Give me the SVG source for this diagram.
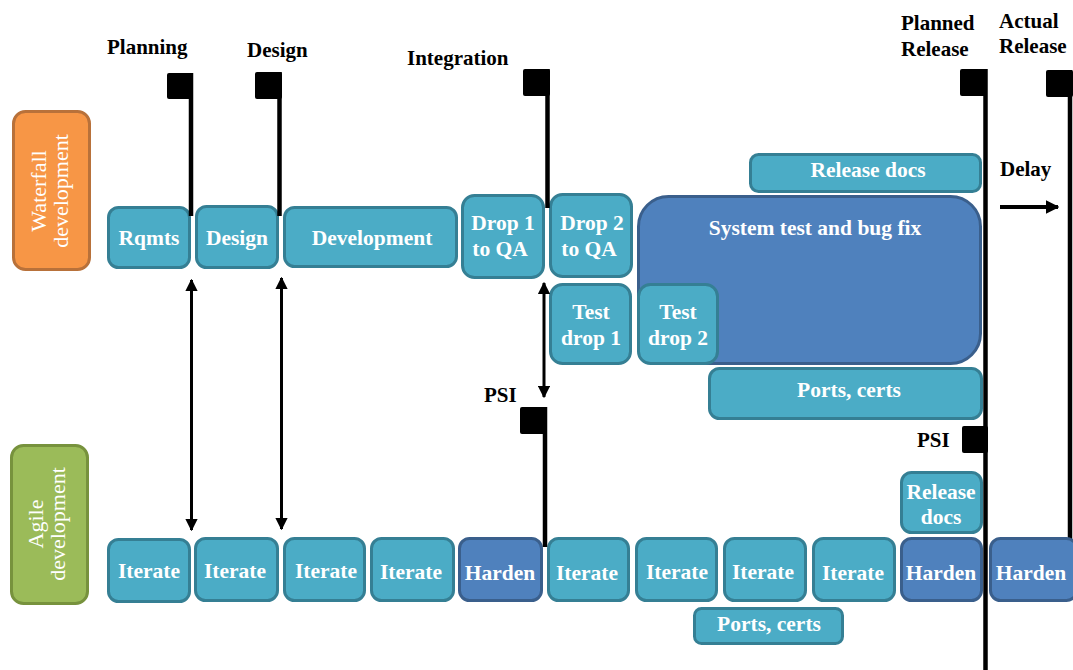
<svg xmlns="http://www.w3.org/2000/svg" width="1073" height="670" viewBox="0 0 1073 670">
  <style>
    .teal { fill: #4BACC6; stroke: #357F94; stroke-width: 3; }
    .blue { fill: #4F81BD; stroke: #3A5F8C; stroke-width: 3; }
    .bt { font-family: "Liberation Serif", "Times New Roman", serif; font-weight: bold; font-size: 21.5px; fill: #FFFFFF; text-anchor: middle; }
    .lbl { font-family: "Liberation Serif", "Times New Roman", serif; font-weight: bold; font-size: 21px; fill: #000000; }
    .side { font-family: "Liberation Serif", "Times New Roman", serif; font-size: 22px; fill: #FFFFFF; text-anchor: middle; }
    .pole { stroke: #000000; stroke-width: 4.5; fill: none; }
    .flag { fill: #000000; }
    .arrow { stroke: #000000; stroke-width: 3; fill: none; }
    .delay { stroke: #000000; stroke-width: 4; fill: none; }
  </style>
  <defs>
    <marker id="head" viewBox="0 0 10 10" refX="9" refY="5" markerWidth="4.2" markerHeight="4.2" orient="auto-start-reverse" markerUnits="strokeWidth">
      <path d="M0,0 L10,5 L0,10 Z" fill="#000000"/>
    </marker>
    <marker id="head-wide" viewBox="0 0 10 10" refX="9" refY="5" markerWidth="3.4" markerHeight="3.4" orient="auto" markerUnits="strokeWidth">
      <path d="M0,0 L10,5 L0,10 Z" fill="#000000"/>
    </marker>
  </defs>
  <rect width="1073" height="670" fill="#FFFFFF"/>

  <!-- Lane labels -->
  <g id="lane-waterfall">
    <rect x="13.5" y="111.5" width="76" height="158" rx="12" fill="#F79646" stroke="#B8713A" stroke-width="3"/>
    <text class="side" transform="translate(46,191) rotate(-90)">Waterfall</text>
    <text class="side" transform="translate(68,191) rotate(-90)">development</text>
  </g>
  <g id="lane-agile">
    <rect x="11.5" y="445.5" width="76" height="158" rx="12" fill="#9BBB59" stroke="#77923D" stroke-width="3"/>
    <text class="side" transform="translate(43,524) rotate(-90)">Agile</text>
    <text class="side" transform="translate(65,524) rotate(-90)">development</text>
  </g>

  <!-- Waterfall tasks -->
  <g id="wf-rqmts"><rect class="teal" x="108.5" y="207.5" width="81" height="60" rx="10"/><text class="bt" x="149" y="245">Rqmts</text></g>
  <g id="wf-design"><rect class="teal" x="196.5" y="206.5" width="81" height="61" rx="10"/><text class="bt" x="237" y="245">Design</text></g>
  <g id="wf-development"><rect class="teal" x="284.5" y="207.5" width="172" height="59" rx="10"/><text class="bt" x="372" y="245">Development</text></g>
  <g id="wf-drop1"><rect class="teal" x="462.5" y="195.5" width="81" height="82" rx="12"/><text class="bt" x="503" y="230">Drop 1</text><text class="bt" x="500" y="256">to QA</text></g>
  <g id="wf-drop2"><rect class="teal" x="550.5" y="194.5" width="81" height="82" rx="12"/><text class="bt" x="592" y="230">Drop 2</text><text class="bt" x="589" y="256">to QA</text></g>
  <g id="wf-release-docs"><rect class="teal" x="750.5" y="154.5" width="230" height="37" rx="8"/><text class="bt" x="868" y="177">Release docs</text></g>
  <g id="wf-system-test"><rect class="blue" x="638.5" y="196.5" width="342" height="167" rx="30"/><text class="bt" x="815" y="235">System test and bug fix</text></g>
  <g id="wf-test-drop1"><rect class="teal" x="550.5" y="284.5" width="80" height="79" rx="12"/><text class="bt" x="591" y="319">Test</text><text class="bt" x="591" y="345">drop 1</text></g>
  <g id="wf-test-drop2"><rect class="teal" x="638.5" y="284.5" width="79" height="79" rx="12"/><text class="bt" x="678" y="319">Test</text><text class="bt" x="678" y="345">drop 2</text></g>
  <g id="wf-ports-certs"><rect class="teal" x="709.5" y="368.5" width="272" height="50" rx="10"/><text class="bt" x="849" y="397">Ports, certs</text></g>

  <!-- Agile iterations -->
  <g id="ag-iterate1"><rect class="teal" x="108.5" y="539.5" width="81" height="62" rx="10"/><text class="bt" x="149" y="578">Iterate</text></g>
  <g id="ag-iterate2"><rect class="teal" x="195.5" y="538.5" width="82" height="62" rx="10"/><text class="bt" x="235" y="578">Iterate</text></g>
  <g id="ag-iterate3"><rect class="teal" x="284.5" y="538.5" width="80" height="62" rx="10"/><text class="bt" x="326" y="578">Iterate</text></g>
  <g id="ag-iterate4"><rect class="teal" x="371.5" y="538.5" width="82" height="62" rx="10"/><text class="bt" x="411" y="579">Iterate</text></g>
  <g id="ag-harden1"><rect class="blue" x="459.5" y="538.5" width="82" height="62" rx="10"/><text class="bt" x="500" y="580">Harden</text></g>
  <g id="ag-iterate5"><rect class="teal" x="548.5" y="538.5" width="80" height="62" rx="10"/><text class="bt" x="587" y="580">Iterate</text></g>
  <g id="ag-iterate6"><rect class="teal" x="636.5" y="538.5" width="80" height="62" rx="10"/><text class="bt" x="677" y="579">Iterate</text></g>
  <g id="ag-iterate7"><rect class="teal" x="724.5" y="538.5" width="81" height="62" rx="10"/><text class="bt" x="763" y="579">Iterate</text></g>
  <g id="ag-iterate8"><rect class="teal" x="813.5" y="538.5" width="81" height="62" rx="10"/><text class="bt" x="853" y="580">Iterate</text></g>
  <g id="ag-harden2"><rect class="blue" x="901.5" y="538.5" width="80" height="62" rx="10"/><text class="bt" x="941" y="580">Harden</text></g>
  <g id="ag-release-docs"><rect class="teal" x="901.5" y="472.5" width="80" height="60" rx="10"/><text class="bt" x="941" y="499">Release</text><text class="bt" x="941" y="524">docs</text></g>
  <g id="ag-ports-certs"><rect class="teal" x="694.5" y="608.5" width="148" height="35" rx="7"/><text class="bt" x="769" y="631">Ports, certs</text></g>

  <!-- Connectors: milestone flags, sync arrows, delay -->
  <g id="connectors">
    <!-- Planning -->
    <rect class="flag" x="167" y="73" width="26" height="26" rx="2"/>
    <line class="pole" x1="191" y1="73" x2="191" y2="216"/>
    <!-- Design -->
    <rect class="flag" x="255" y="72" width="27" height="27" rx="2"/>
    <line class="pole" x1="279.5" y1="72" x2="279.5" y2="216"/>
    <!-- Integration -->
    <rect class="flag" x="523" y="69" width="27" height="27" rx="2"/>
    <line class="pole" x1="547.5" y1="69" x2="547.5" y2="208"/>
    <!-- Mid PSI -->
    <rect class="flag" x="520" y="407" width="27" height="27" rx="2"/>
    <line class="pole" x1="545" y1="407" x2="545" y2="547"/>
    <!-- Planned release, with PSI -->
    <rect class="flag" x="960" y="69" width="27" height="27" rx="2"/>
    <rect class="flag" x="962" y="426" width="26" height="27" rx="2"/>
    <line class="pole" x1="985.5" y1="69" x2="985.5" y2="670"/>
    <!-- Actual release -->
    <rect class="flag" x="1046" y="70" width="27" height="27" rx="2"/>
    <line class="pole" x1="1070" y1="70" x2="1070" y2="540"/>

    <!-- Waterfall / agile sync arrows -->
    <line class="arrow" x1="191.5" y1="280" x2="191.5" y2="530" marker-start="url(#head)" marker-end="url(#head)"/>
    <line class="arrow" x1="281.5" y1="278" x2="281.5" y2="529" marker-start="url(#head)" marker-end="url(#head)"/>
    <line class="arrow" x1="544" y1="283" x2="544" y2="397" marker-start="url(#head)" marker-end="url(#head)"/>

    <!-- Delay arrow -->
    <line class="delay" x1="1000" y1="207" x2="1058" y2="207" marker-end="url(#head-wide)"/>
  </g>

  <!-- Late hardening sprint sits over the actual-release pole -->
  <g id="ag-harden3"><rect class="blue" x="990.5" y="538.5" width="86" height="62" rx="10"/><text class="bt" x="1031" y="580">Harden</text></g>

  <!-- Milestone labels -->
  <g id="labels">
    <text class="lbl" x="107" y="54">Planning</text>
    <text class="lbl" x="247" y="57">Design</text>
    <text class="lbl" x="407" y="65">Integration</text>
    <text class="lbl" x="484" y="402">PSI</text>
    <text class="lbl" x="917" y="447">PSI</text>
    <text class="lbl" x="901" y="30">Planned</text>
    <text class="lbl" x="901" y="56">Release</text>
    <text class="lbl" x="999" y="28">Actual</text>
    <text class="lbl" x="999" y="53">Release</text>
    <text class="lbl" x="1000" y="176">Delay</text>
  </g>
</svg>
